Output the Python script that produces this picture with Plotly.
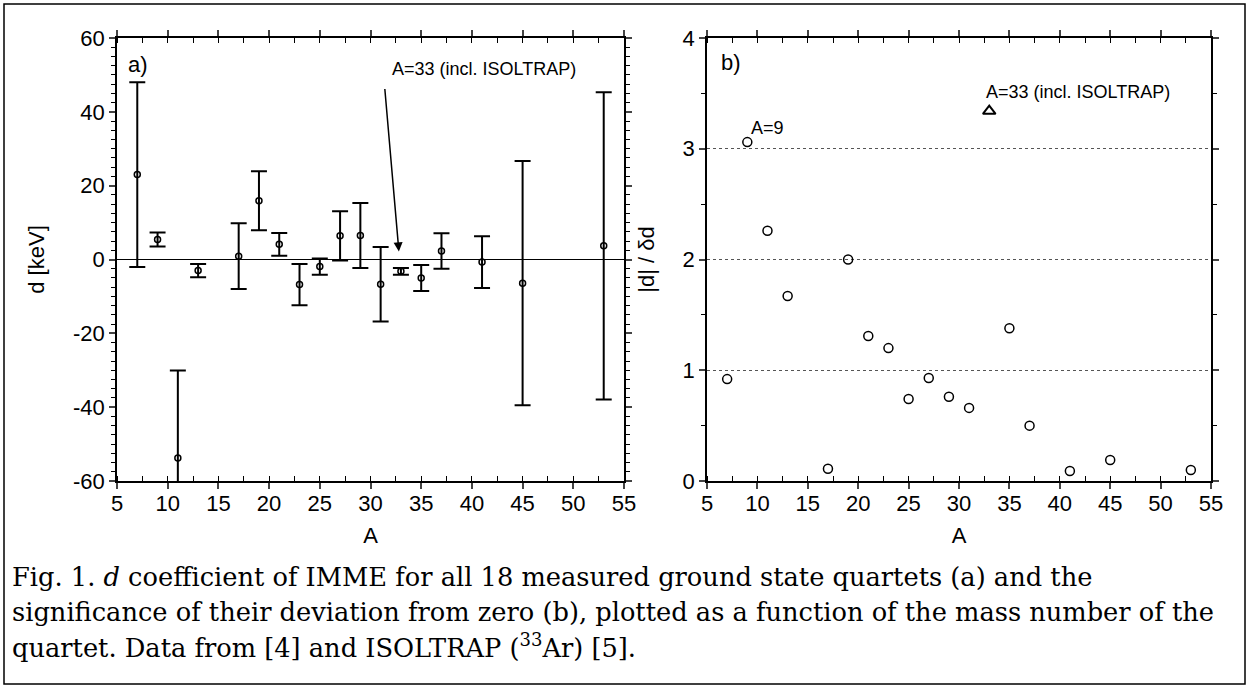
import plotly.graph_objects as go

# ---- data ----
A_vals = [7, 9, 11, 13, 17, 19, 21, 23, 25, 27, 29, 31, 33, 35, 37, 41, 45, 53]
d_vals = [23.0, 5.4, -53.8, -3.0, 0.9, 15.9, 4.1, -6.8, -1.9, 6.4, 6.5, -6.7, -3.2, -5.0, 2.3, -0.7, -6.4, 3.7]
d_errs = [25.0, 1.9, 23.7, 1.8, 8.9, 8.0, 3.1, 5.6, 2.2, 6.7, 8.8, 10.1, 0.9, 3.5, 4.8, 7.0, 33.1, 41.6]

A_sig = [7, 9, 11, 13, 17, 19, 21, 23, 25, 27, 29, 31, 35, 37, 41, 45, 53]
sig_vals = [0.92, 3.06, 2.26, 1.67, 0.11, 2.0, 1.31, 1.20, 0.74, 0.93, 0.76, 0.66, 1.38, 0.50, 0.09, 0.19, 0.10]
A_iso = [33]
sig_iso = [3.34]

x_ticks = [5, 10, 15, 20, 25, 30, 35, 40, 45, 50, 55]
y1_ticks = [-60, -40, -20, 0, 20, 40, 60]
y1_labels = ["-60", "-40", "-20", "0", "20", "40", "60"]
y2_ticks = [0, 1, 2, 3, 4]
caption_lines = [
    "Fig. 1. <i>d</i> coefficient of IMME for all 18 measured ground state quartets (a) and the",
    "significance of their deviation from zero (b), plotted as a function of the mass number of the",
    "quartet. Data from [4] and ISOLTRAP (<sup>33</sup>Ar) [5].",
]

W, H = 1249, 687
SANS = "Liberation Sans, Arial, sans-serif"
SERIF = "DejaVu Serif, Liberation Serif, serif"

fig = go.Figure()

fig.add_trace(go.Scatter(
    x=A_vals, y=d_vals, mode="markers",
    marker=dict(symbol="circle-open", size=6, color="black", line=dict(width=1.5)),
    error_y=dict(type="data", array=d_errs, color="black", thickness=2, width=8),
    xaxis="x", yaxis="y", showlegend=False))

fig.add_trace(go.Scatter(
    x=A_sig, y=sig_vals, mode="markers",
    marker=dict(symbol="circle-open", size=9, color="black", line=dict(width=1.5)),
    xaxis="x2", yaxis="y2", showlegend=False))
fig.add_trace(go.Scatter(
    x=A_iso, y=sig_iso, mode="markers",
    marker=dict(symbol="triangle-up-open", size=11, color="black", line=dict(width=2)),
    xaxis="x2", yaxis="y2", showlegend=False))

ydom = [1 - 481 / H, 1 - 38 / H]
common_x = dict(range=[5, 55], tickvals=x_ticks, ticks="outside", ticklen=6, tickwidth=1.5,
                showline=True, linecolor="black", linewidth=1.5, mirror="ticks",
                showgrid=False, zeroline=False, automargin=False, ticklabelstandoff=-4,
                minor=dict(dtick=2.5, tick0=5, ticks="inside", ticklen=5, tickwidth=1, tickcolor="black"),
                tickfont=dict(family=SANS, size=22, color="black"),
                title=dict(text="A", font=dict(family=SANS, size=22, color="black"), standoff=12))

fig.update_layout(
    width=W, height=H, margin=dict(l=0, r=0, t=0, b=0, autoexpand=False),
    paper_bgcolor="white", plot_bgcolor="white", showlegend=False,
    xaxis=dict(domain=[117 / W, 624 / W], anchor="y", **common_x),
    xaxis2=dict(domain=[707 / W, 1211 / W], anchor="y2", **common_x),
    yaxis=dict(domain=ydom, anchor="x", range=[-60, 60], tickvals=y1_ticks, ticktext=y1_labels,
               ticks="outside", ticklen=6, tickwidth=1.5, automargin=False,
               showline=True, linecolor="black", linewidth=1.5, mirror="ticks",
               showgrid=False, zeroline=True, zerolinecolor="black", zerolinewidth=1,
               minor=dict(dtick=2.5, tick0=0, ticks="outside", ticklen=4, tickwidth=1, tickcolor="black"),
               tickfont=dict(family=SANS, size=22, color="black"),
               title=dict(text="d [keV]", font=dict(family=SANS, size=22, color="black"), standoff=22)),
    yaxis2=dict(domain=ydom, anchor="x2", range=[0, 4], tickvals=y2_ticks,
                ticks="outside", ticklen=6, tickwidth=1.5, automargin=False,
                showline=True, linecolor="black", linewidth=1.5, mirror="ticks",
                showgrid=True, gridcolor="#555555", gridwidth=1, griddash="dot",
                zeroline=False,
                minor=dict(dtick=0.5, tick0=0, ticks="outside", ticklen=4, tickwidth=1, tickcolor="black",
                           showgrid=False),
                tickfont=dict(family=SANS, size=22, color="black"),
                title=dict(text="|d| / δd", font=dict(family=SANS, size=22, color="black"), standoff=22)),
)

ann_font = dict(family=SANS, size=18, color="black")
fig.add_annotation(x=7.1, y=52.9, xref="x", yref="y", text="a)", showarrow=False,
                   font=dict(family=SANS, size=22, color="black"))
fig.add_annotation(x=41.2, y=51.6, xref="x", yref="y", text="A=33 (incl. ISOLTRAP)",
                   showarrow=False, font=ann_font)
fig.add_annotation(x=32.8, y=2.2, xref="x", yref="y", ax=31.4, ay=46.6, axref="x", ayref="y",
                   text="", showarrow=True, arrowhead=2, arrowsize=1.2, arrowwidth=1.5,
                   arrowcolor="black")
fig.add_annotation(x=7.4, y=3.78, xref="x2", yref="y2", text="b)", showarrow=False,
                   font=dict(family=SANS, size=22, color="black"))
fig.add_annotation(x=11.05, y=3.19, xref="x2", yref="y2", text="A=9", showarrow=False,
                   font=ann_font)
fig.add_annotation(x=41.85, y=3.51, xref="x2", yref="y2", text="A=33 (incl. ISOLTRAP)",
                   showarrow=False, font=ann_font)

# caption, one line per annotation
for i, line in enumerate(caption_lines):
    fig.add_annotation(x=10 / W, y=1 - (577 + 34.5 * i) / H, xref="paper", yref="paper",
                       xanchor="left", yanchor="middle", align="left", showarrow=False,
                       text=line, font=dict(family=SERIF, size=25.7, color="black"))

# outer frame
fig.add_shape(type="rect", xref="paper", yref="paper",
              x0=4 / W, x1=1245 / W, y0=1 - 684 / H, y1=1 - 4 / H,
              line=dict(color="black", width=1.5))

fig.write_html("out.html", config={"displayModeBar": False},
               post_script="document.body.style.margin='0';document.body.style.overflow='hidden';")
